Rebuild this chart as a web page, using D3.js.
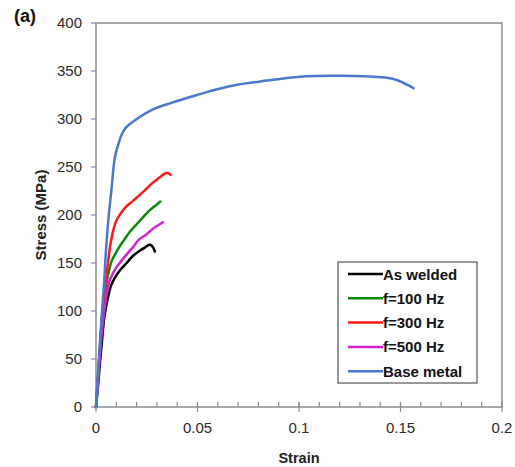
<!DOCTYPE html>
<html>
<head>
    <meta charset="utf-8">
    <style>
        body { margin: 0; background: #fff; }
        text { font-family: Arial, "Liberation Sans", sans-serif; }
    </style>
</head>
<body>
<div id="chart"></div>
<script src="https://cdn.jsdelivr.net/npm/d3@7"></script>
<script type="text/javascript">

    // series: [strain, stress (MPa)]
    var asWelded = [[0, 0], [0.001, 22], [0.002, 47], [0.003, 70], [0.004, 92], [0.005, 105], [0.006, 115],
        [0.0075, 127], [0.0094, 135], [0.012, 143], [0.0151, 150], [0.018, 157], [0.0217, 163], [0.024, 166],
        [0.0262, 169], [0.0275, 168], [0.0284, 165], [0.029, 162]];
    var f100 = [[0, 0], [0.001, 30], [0.002, 62], [0.003, 92], [0.004, 115], [0.005, 128], [0.006, 138],
        [0.0077, 152], [0.0102, 162], [0.0125, 170], [0.0145, 176], [0.0165, 182], [0.0194, 189], [0.022, 195],
        [0.026, 204], [0.03, 211], [0.0317, 214]];
    var f300 = [[0, 0], [0.001, 32], [0.002, 64], [0.003, 95], [0.004, 116], [0.005, 134], [0.006, 152],
        [0.007, 168], [0.0085, 184], [0.01, 194], [0.012, 201], [0.0145, 208], [0.0184, 215], [0.0227, 223],
        [0.0276, 233], [0.0309, 238.5], [0.0342, 243.5], [0.0356, 243.5], [0.0368, 242]];
    var f500 = [[0, 0], [0.001, 28], [0.002, 55], [0.003, 80], [0.004, 98], [0.0053, 118], [0.0066, 131],
        [0.0085, 140], [0.0102, 146], [0.0128, 153], [0.0151, 159], [0.0184, 167], [0.021, 174], [0.025, 180],
        [0.0276, 185], [0.033, 192.5]];
    var baseMetal = [[0, 0], [0.001, 35], [0.002, 70], [0.003, 100], [0.004, 130], [0.0046, 153], [0.0055, 180],
        [0.0063, 200], [0.0071, 216], [0.008, 235], [0.0087, 251], [0.0098, 265], [0.0112, 275], [0.0125, 283],
        [0.0145, 290.5], [0.0194, 299], [0.0276, 309.5], [0.0375, 317], [0.0497, 325], [0.0562, 329],
        [0.0676, 335], [0.0842, 340], [0.1006, 344], [0.117, 345], [0.1335, 344.4], [0.1466, 341.7],
        [0.1516, 337.5], [0.1565, 332]];

    var seriesNames = ["As welded", "f=100 Hz", "f=300 Hz", "f=500 Hz", "Base metal"];
    var seriesData = [asWelded, f100, f300, f500, baseMetal];
    var seriesColors = ["#000000", "#0a8a0a", "#ff1a1a", "#d21fd2", "#4a78cc"];

    var xTicks = [0, 0.05, 0.1, 0.15, 0.2];
    var xTickLabels = ["0", "0.05", "0.1", "0.15", "0.2"];
    var yTicks = [0, 50, 100, 150, 200, 250, 300, 350, 400];

    var w = 515;
    var h = 467;
    var plotLeft = 96, plotRight = 502, plotTop = 23, plotBottom = 407;

    var xScale = d3.scaleLinear().domain([0, 0.2]).range([plotLeft, plotRight]);
    var yScale = d3.scaleLinear().domain([0, 400]).range([plotBottom, plotTop]);

    var svg = d3.select("#chart")
        .append("svg")
        .attr("width", w)
        .attr("height", h);

    // plot frame
    svg.append("rect")
        .attr("x", plotLeft)
        .attr("y", plotTop)
        .attr("width", plotRight - plotLeft)
        .attr("height", plotBottom - plotTop)
        .attr("fill", "none")
        .attr("stroke", "#8c8c8c")
        .attr("stroke-width", 1.5);

    // x axis: major ticks crossing, minor ticks inside
    var xAxis = svg.append("g").attr("transform", "translate(0," + plotBottom + ")");
    xAxis.selectAll(".minor")
        .data(d3.range(1, 20).map(function (i) { return i / 100; }))
        .enter()
        .append("line")
        .attr("x1", function (d) { return xScale(d); })
        .attr("x2", function (d) { return xScale(d); })
        .attr("y1", 0)
        .attr("y2", -5)
        .attr("stroke", "#8c8c8c")
        .attr("stroke-width", 1.2);
    xAxis.selectAll(".major")
        .data(xTicks)
        .enter()
        .append("line")
        .attr("x1", function (d) { return xScale(d); })
        .attr("x2", function (d) { return xScale(d); })
        .attr("y1", -5)
        .attr("y2", 5)
        .attr("stroke", "#8c8c8c")
        .attr("stroke-width", 1.2);
    xAxis.selectAll(".lbl")
        .data(xTicks)
        .enter()
        .append("text")
        .attr("x", function (d) { return xScale(d); })
        .attr("y", 26)
        .attr("text-anchor", "middle")
        .attr("font-size", 15)
        .attr("fill", "#2a2a2a")
        .text(function (d, i) { return xTickLabels[i]; });

    // y axis
    var yAxis = svg.append("g").attr("transform", "translate(" + plotLeft + ",0)");
    yAxis.selectAll("line")
        .data(yTicks)
        .enter()
        .append("line")
        .attr("x1", -5)
        .attr("x2", 0)
        .attr("y1", function (d) { return yScale(d); })
        .attr("y2", function (d) { return yScale(d); })
        .attr("stroke", "#8c8c8c")
        .attr("stroke-width", 1.2);
    yAxis.selectAll("text")
        .data(yTicks)
        .enter()
        .append("text")
        .attr("x", -14)
        .attr("y", function (d) { return yScale(d) + 5; })
        .attr("text-anchor", "end")
        .attr("font-size", 15)
        .attr("fill", "#2a2a2a")
        .text(function (d) { return d; });

    // axis titles
    svg.append("text")
        .attr("x", (plotLeft + plotRight) / 2)
        .attr("y", 463)
        .attr("text-anchor", "middle")
        .attr("font-size", 14.5)
        .attr("font-weight", "bold")
        .attr("fill", "#222")
        .text("Strain");
    svg.append("text")
        .attr("transform", "translate(46," + ((plotTop + plotBottom) / 2) + ") rotate(-90)")
        .attr("text-anchor", "middle")
        .attr("font-size", 15)
        .attr("font-weight", "bold")
        .attr("fill", "#222")
        .text("Stress (MPa)");
    svg.append("text")
        .attr("x", 14)
        .attr("y", 22)
        .attr("font-size", 18)
        .attr("font-weight", "bold")
        .attr("fill", "#111")
        .text("(a)");

    var line = d3.line()
        .x(function (d) { return xScale(d[0]); })
        .y(function (d) { return yScale(d[1]); })
        .curve(d3.curveCatmullRom.alpha(0.5));

    // draw curves
    svg.selectAll(".curve")
        .data(seriesData)
        .enter()
        .append("path")
        .attr("class", "curve")
        .attr("d", line)
        .attr("fill", "none")
        .attr("stroke", function (d, i) { return seriesColors[i]; })
        .attr("stroke-width", 2.5)
        .attr("stroke-linejoin", "round")
        .attr("stroke-linecap", "round");

    // legend
    var legend = svg.append("g").attr("transform", "translate(338,262)");
    legend.append("rect")
        .attr("width", 139)
        .attr("height", 121)
        .attr("fill", "#fff")
        .attr("stroke", "#333")
        .attr("stroke-width", 1);
    var item = legend.selectAll(".item")
        .data(seriesNames)
        .enter()
        .append("g")
        .attr("transform", function (d, i) { return "translate(0," + (12 + i * 24.3) + ")"; });
    item.append("line")
        .attr("x1", 10)
        .attr("x2", 45)
        .attr("stroke", function (d, i) { return seriesColors[i]; })
        .attr("stroke-width", 2.5);
    item.append("text")
        .attr("x", 45)
        .attr("y", 5.5)
        .attr("font-size", 15)
        .attr("font-weight", "bold")
        .attr("fill", "#111")
        .text(function (d) { return d; });

</script>
</body>
</html>
